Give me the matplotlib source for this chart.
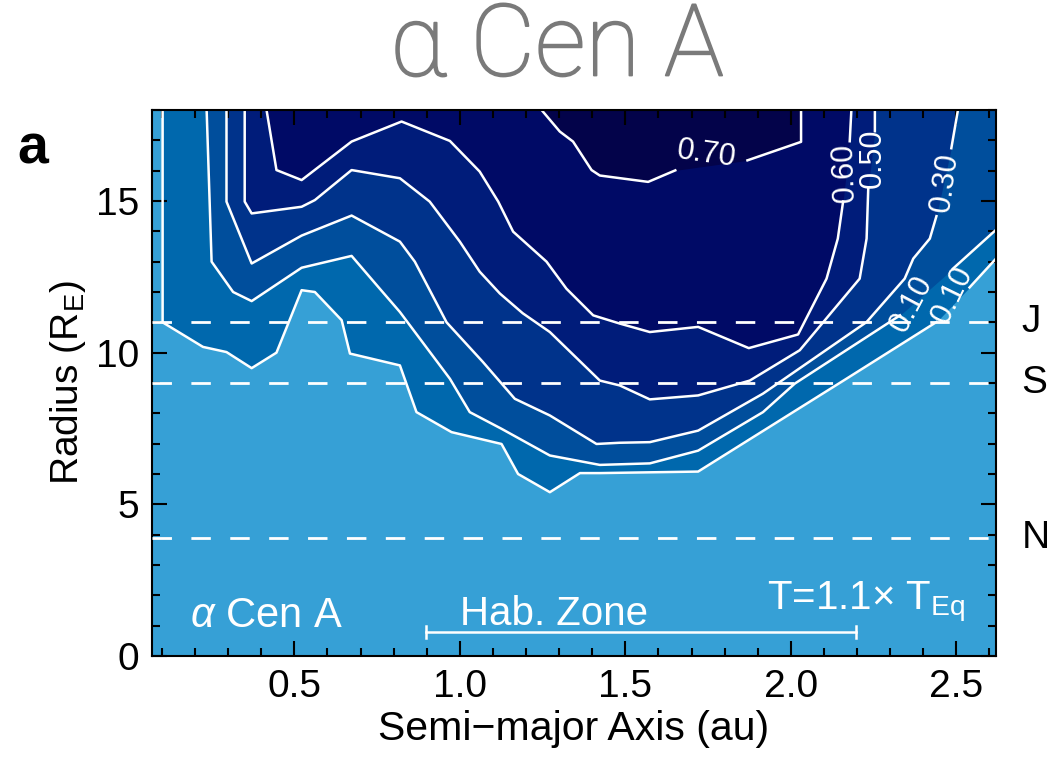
import numpy as np
import matplotlib.pyplot as plt
import matplotlib.patheffects as pe

plt.rcParams['font.family'] = ['Liberation Sans', 'DejaVu Sans']
plt.rcParams['mathtext.fontset'] = 'custom'
plt.rcParams['mathtext.rm'] = 'Liberation Sans'
plt.rcParams['mathtext.it'] = 'Liberation Sans:italic'

# contour vertices: semi-major axis (au), radius (R_E)
x_010a = [0.102, 0.102, 0.224, 0.295, 0.371, 0.446, 0.522, 0.562, 0.643, 0.668, 0.819, 0.869,
          0.975, 1.126, 1.176, 1.272, 1.363, 1.423, 1.72, 2.168, 2.44, 2.54, 2.62]
y_010a = [18.0, 11.0, 10.19, 10.02, 9.49, 10.0, 12.06, 12.0, 11.07, 9.97, 9.58, 8.04,
          7.38, 6.99, 6.0, 5.40, 6.03, 6.03, 6.08, 9.14, 11.01, 12.15, 13.1]

x_010b = [0.235, 0.25, 0.315, 0.371, 0.522, 0.673, 0.758, 0.819, 0.97, 1.03, 1.126, 1.272,
          1.423, 1.574, 1.72, 1.916, 2.012, 2.33, 2.49, 2.62]
y_010b = [18.0, 13.0, 12.0, 11.70, 12.80, 13.19, 12.11, 11.34, 9.14, 8.04, 7.49, 6.61,
          6.30, 6.35, 6.77, 8.04, 8.98, 11.23, 12.77, 14.05]

x_030 = [0.295, 0.295, 0.371, 0.522, 0.673, 0.819, 0.864, 0.96, 1.07, 1.166, 1.272, 1.413,
         1.483, 1.574, 1.72, 1.916, 2.229, 2.344, 2.37, 2.42, 2.44, 2.485, 2.505]
y_030 = [18.0, 14.98, 12.94, 13.86, 14.52, 13.66, 13.0, 11.0, 9.69, 8.48, 7.93, 6.99,
         7.03, 7.05, 7.43, 8.65, 11.01, 12.44, 13.1, 13.76, 14.5, 16.74, 18.0]

x_050 = [0.35, 0.35, 0.371, 0.522, 0.562, 0.673, 0.819, 0.909, 1.0, 1.06, 1.121, 1.19,
         1.272, 1.423, 1.483, 1.574, 1.72, 1.876, 2.027, 2.208, 2.229, 2.234, 2.254, 2.254]
y_050 = [18.0, 14.98, 14.59, 14.81, 15.03, 16.02, 15.75, 14.98, 13.66, 12.67, 11.95, 11.3,
         10.68, 9.08, 8.92, 8.46, 8.59, 9.08, 10.08, 12.44, 13.76, 15.42, 17.3, 18.0]

x_060 = [0.416, 0.446, 0.522, 0.673, 0.824, 0.97, 1.06, 1.116, 1.161, 1.262, 1.322, 1.403,
         1.483, 1.574, 1.72, 1.873, 2.022, 2.108, 2.142, 2.158, 2.178, 2.183]
y_060 = [18.0, 16.02, 15.69, 16.96, 17.62, 16.98, 15.97, 14.98, 13.99, 13.0, 12.11, 11.23,
         10.96, 10.68, 10.85, 10.15, 10.6, 12.44, 13.76, 14.98, 16.97, 18.0]

x_070 = [1.247, 1.302, 1.342, 1.398, 1.423, 1.569, 1.651, 1.869, 2.031, 2.031]
y_070 = [18.0, 17.29, 16.96, 16.02, 15.84, 15.63, 16.01, 16.34, 16.95, 18.0]

# index of the vertex after which the line is broken for its label
gaps = [20, 17, 20, 21, 19, 6]

band_colors = ['#0068ad', '#004e9c', '#00338b', '#001c7a', '#000a66', '#03034a']
low_color = '#36a0d6'

labels = ['0.10', '0.10', '0.30', '0.50', '0.60', '0.70']
label_x = [2.49, 2.365, 2.465, 2.248, 2.162, 1.745]
label_y = [11.9, 11.6, 15.6, 16.4, 15.95, 16.55]
label_rot = [64, 62, 82, 90, 92, -8]

planet_names = ['J', 'S', 'N']
planet_radius = [11.0, 9.0, 3.9]

hz_inner, hz_outer, hz_y = 0.897, 2.196, 0.78

fig = plt.figure(figsize=(10.47, 7.66), dpi=100)
ax = fig.add_axes([0.1452, 0.1436, 0.8061, 0.7128])
ax.set_facecolor(low_color)

curves = [(x_010a, y_010a), (x_010b, y_010b), (x_030, y_030),
          (x_050, y_050), (x_060, y_060), (x_070, y_070)]

for (cx, cy), col in zip(curves, band_colors):
    ax.fill_between(cx, cy, 18.0, color=col, lw=0, zorder=1)

for (cx, cy), g in zip(curves, gaps):
    lx = list(cx[:g + 1]) + [np.nan] + list(cx[g + 1:])
    ly = list(cy[:g + 1]) + [np.nan] + list(cy[g + 1:])
    ax.plot(lx, ly, color='white', lw=1.8, zorder=2)

for t, lx, ly, r in zip(labels, label_x, label_y, label_rot):
    ax.text(lx, ly, t, color='white', fontsize=22, rotation=r,
            ha='center', va='center', zorder=4)

for name, r in zip(planet_names, planet_radius):
    ax.axhline(r, color='white', lw=2.0, ls=(0, (7, 7)), zorder=3)
    ax.text(1.03, r, name, transform=ax.get_yaxis_transform(), fontsize=28,
            ha='left', va='center', clip_on=False)

# habitable zone bar
ax.plot([hz_inner, hz_outer], [hz_y, hz_y], color='white', lw=1.8, zorder=3)
ax.plot([hz_inner, hz_inner], [hz_y - 0.2, hz_y + 0.2], color='white', lw=1.8, zorder=3)
ax.plot([hz_outer, hz_outer], [hz_y - 0.2, hz_y + 0.2], color='white', lw=1.8, zorder=3)
ax.text(1.0, 1.01, 'Hab. Zone', color='white', fontsize=29, va='baseline', zorder=4)
ax.text(0.184, 0.95, r'$\alpha$ Cen A', color='white', fontsize=30, va='baseline', zorder=4)
ax.text(1.927, 1.54, 'T=1.1\u00d7 T$_\\mathrm{Eq}$', color='white', fontsize=29,
        va='baseline', zorder=4)

ax.set_xlim(0.07, 2.62)
ax.set_ylim(0, 18)
ax.set_xticks([0.5, 1.0, 1.5, 2.0, 2.5])
ax.set_xticklabels(['0.5', '1.0', '1.5', '2.0', '2.5'])
ax.set_xticks(np.arange(0.1, 2.65, 0.1), minor=True)
ax.set_yticks([0, 5, 10, 15])
ax.set_yticks(np.arange(0, 18.5, 1), minor=True)
ax.tick_params(which='both', direction='in', top=True, right=True, width=1.5,
               labelsize=28, pad=9)
ax.tick_params(which='major', length=11)
ax.tick_params(which='minor', length=5.5)
for s in ax.spines.values():
    s.set_linewidth(1.5)

ax.set_xlabel('Semi\u2212major Axis (au)', fontsize=29.5, labelpad=4)
ax.set_ylabel(r'Radius (R$_\mathrm{E}$)', fontsize=28, labelpad=6)

title = fig.text(557 / 1047, 1 - 48 / 766, '\u03b1 Cen A', fontsize=72, color='#7a7a7a',
                 family=['Roboto', 'DejaVu Sans'], fontweight='light',
                 ha='center', va='center')
title.set_path_effects([pe.withStroke(linewidth=1.3, foreground='#7a7a7a')])
fig.text(17 / 1047, 1 - 163 / 766, 'a', fontsize=40, fontweight='bold', va='baseline')

fig.savefig('out.png', dpi=100)
